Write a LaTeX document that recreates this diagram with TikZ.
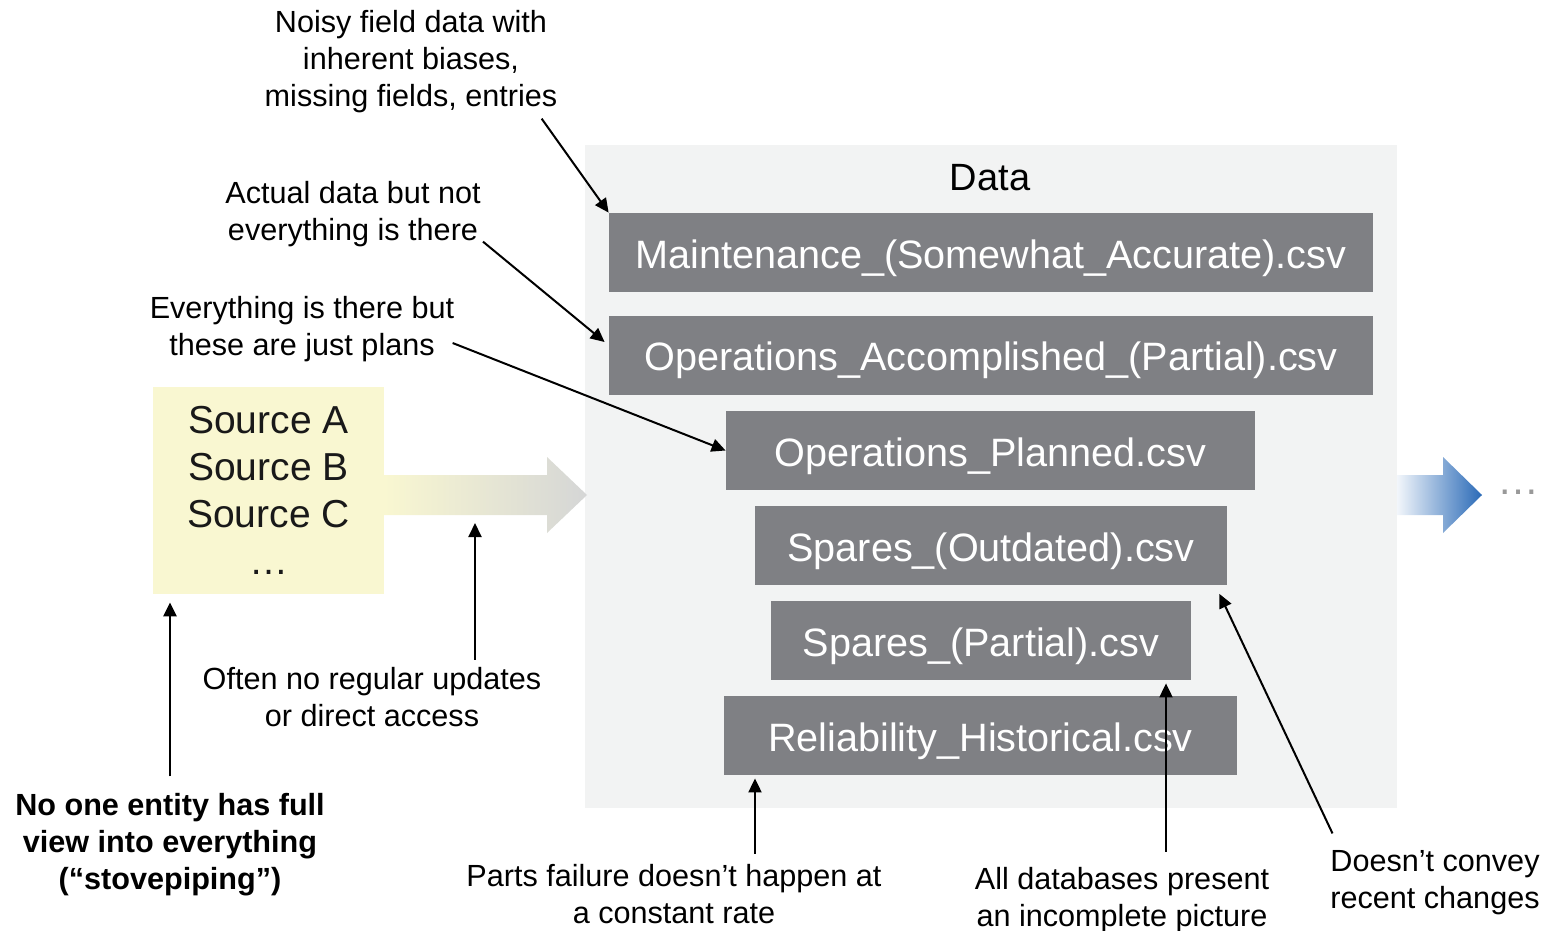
\documentclass[tikz,border=0pt]{standalone}
\usepackage{fontspec}
\setmainfont{Liberation Sans}
\usetikzlibrary{arrows.meta,calc}
\definecolor{boxgray}{HTML}{7F8084}
\definecolor{panel}{HTML}{F2F3F3}
\definecolor{srcyellow}{HTML}{F9F7D1}
\definecolor{fadegray}{HTML}{D5D6D6}
\definecolor{flowblue}{HTML}{2A6AB7}
\tikzset{>={Triangle[length=7pt,width=6.5pt]},
  note/.style={align=center,inner sep=0pt,font=\fontsize{15.3}{18.5}\selectfont},
  csvbox/.style={fill=boxgray,text=white,inner sep=0pt,minimum height=39.5pt,text height=15.5pt,text depth=0pt,font=\fontsize{19.8}{24}\selectfont},
  pointer/.style={line width=1pt,->}}
\begin{document}
\begin{tikzpicture}[x=0.5pt,y=-0.5pt]
\useasboundingbox (0,0) rectangle (1547,931);
% data panel and files
\fill[panel] (585,145) rectangle (1397,808);
\node[font=\fontsize{19}{23}\selectfont] (datatitle) at (990,178) {Data};
\node[csvbox,minimum width=382pt] (maint) at (991,252.5) {Maintenance\_(Somewhat\_Accurate).csv};
\node[csvbox,minimum width=382pt] (opsacc) at (991,355) {Operations\_Accomplished\_(Partial).csv};
\node[csvbox,minimum width=264.5pt] (opsplan) at (990.5,450.5) {Operations\_Planned.csv};
\node[csvbox,minimum width=236pt] (spout) at (991,545.5) {Spares\_(Outdated).csv};
\node[csvbox,minimum width=210pt] (sppart) at (981,640.5) {Spares\_(Partial).csv};
\node[csvbox,minimum width=256.5pt] (rel) at (980.5,735.5) {Reliability\_Historical.csv};
% sources and flows
\node[fill=srcyellow,minimum width=115.5pt,minimum height=103.5pt,align=center,text=black!90,font=\fontsize{19.5}{23.5}\selectfont] (src) at (268.5,490.5) {Source A\\Source B\\Source C\\\ldots};
\shade[left color=srcyellow,right color=fadegray] (384,475)--(547,475)--(547,457)--(587,495)--(547,533)--(547,515)--(384,515)--cycle;
\coordinate (inflow) at (475,515);
\shade[left color=flowblue!6,right color=flowblue] (1397,475)--(1443,475)--(1443,457)--(1482,495)--(1443,533)--(1443,515)--(1397,515)--cycle;
\node[text=black!40,font=\fontsize{21}{24}\selectfont] (more) at (1518,492) {\ldots};
% notes
\node[note] (noisy) at (411,62) {Noisy field data with\\inherent biases,\\missing fields, entries};
\node[note] (actual) at (353,214) {Actual data but not\\everything is there};
\node[note] (plans) at (302,329) {Everything is there but\\these are just plans};
\node[note] (often) at (372,697) {Often no regular updates\\or direct access};
\node[note,font=\bfseries\fontsize{15.3}{18.5}\selectfont] (noone) at (170,845) {No one entity has full\\view into everything\\(“stovepiping”)};
\node[note] (parts) at (674,894) {Parts failure doesn’t happen at\\a constant rate};
\node[note] (alldb) at (1122,900.5) {All databases present\\an incomplete picture};
\node[note] (convey) at (1435,883) {Doesn’t convey\\recent changes};
% pointers
\draw[pointer] ([shift={(-16,5)}]noisy.south east)--(maint.north west);
\draw[pointer] ([shift={(2,-5.5)}]actual.south east)--([shift={(-4,-13)}]opsacc.west);
\draw[pointer] ([shift={(-2,14)}]plans.east)--(opsplan.west);
\draw[pointer] ([shift={(103,-7)}]often.north)--([shift={(0,8)}]inflow);
\draw[pointer,line width=1.4pt] ([shift={(0,-17)}]noone.north)--($(noone.north |- src.south)+(0,8)$);
\draw[pointer] ([shift={(81,-10)}]parts.north)--([shift={(-225.5,3)}]rel.south);
\draw[pointer] ([shift={(44,-15.5)}]alldb.north)--([shift={(185,3)}]sppart.south);
\draw[pointer] ([shift={(2.5,-17)}]convey.north west)--([shift={(-8,8.5)}]spout.south east);
\end{tikzpicture}
\end{document}
